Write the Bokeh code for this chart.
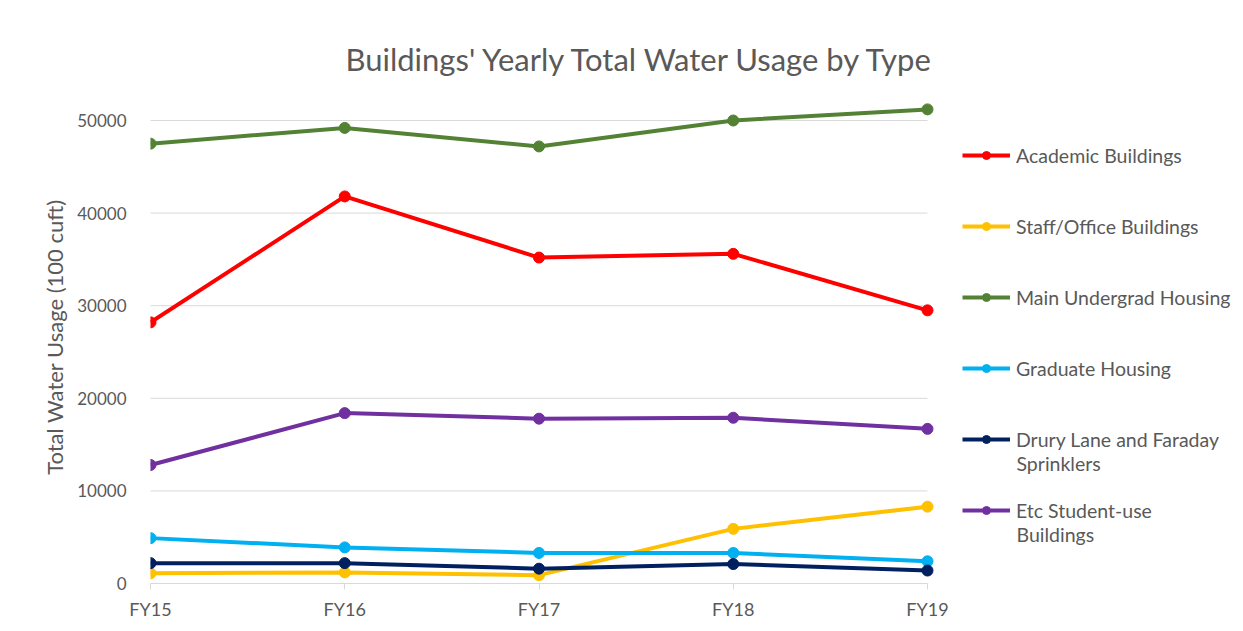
from bokeh.plotting import figure
from bokeh.models import FixedTicker, Legend, LegendItem, Range1d, Label
from bokeh.embed import file_html
from bokeh.resources import INLINE

years = ["FY15", "FY16", "FY17", "FY18", "FY19"]
academic = [28200, 41800, 35200, 35600, 29500]
staff = [1100, 1200, 900, 5900, 8300]
main_ug = [47500, 49200, 47200, 50000, 51200]
graduate = [4900, 3900, 3300, 3300, 2400]
drury = [2200, 2200, 1600, 2100, 1400]
etc_student = [12800, 18400, 17800, 17900, 16700]

# legend labels: first line in the legend entry, second (wrapped) line below it
series_names = ["Academic Buildings", "Staff/Office Buildings", "Main Undergrad Housing",
                "Graduate Housing", "Drury Lane and Faraday", "Etc Student-use"]
wrapped_lines = {4: "Sprinklers", 5: "Buildings"}
series_values = [academic, staff, main_ug, graduate, drury, etc_student]
series_colors = ["#FF0000", "#FFC000", "#548235", "#00B0F0", "#002060", "#7030A0"]
y_ticks = [0, 10000, 20000, 30000, 40000, 50000]

FONT = "Lato"
TXT = "#595959"
GRID = "#D9D9D9"

xs = list(range(len(years)))
n = len(years) - 1

W, H = 1235, 623
LEFT, TOP, BOTTOM = 150, 90, 40
frame_w = W - LEFT
frame_h = H - TOP - BOTTOM
unit_px = 777 / n  # pixel distance between categories
x_end = frame_w / unit_px

p = figure(width=W, height=H, output_backend="svg", toolbar_location=None,
           x_range=Range1d(0, x_end), y_range=Range1d(0, 53240),
           min_border_left=LEFT, min_border_right=0, min_border_top=TOP,
           min_border_bottom=BOTTOM)
p.outline_line_color = None
p.background_fill_color = "white"
p.border_fill_color = "white"

p.title.text = "Buildings' Yearly Total Water Usage by Type"
p.title.text_font = FONT
p.title.text_font_size = "31px"
p.title.text_font_style = "normal"
p.title.text_color = TXT
p.title.align = "left"
p.title.offset = 195
p.title.standoff = 25

# x axis
xa = p.xaxis[0]
xa.ticker = FixedTicker(ticks=xs)
xa.bounds = (0, n)
xa.major_label_overrides = {i: y for i, y in enumerate(years)}
xa.axis_line_color = GRID
xa.major_tick_line_color = GRID
xa.major_tick_in = 0
xa.major_tick_out = 6
xa.minor_tick_line_color = None
xa.major_label_text_font = FONT
xa.major_label_text_font_size = "18px"
xa.major_label_text_color = TXT
xa.major_label_standoff = 8

# y axis
ya = p.yaxis[0]
ya.ticker = FixedTicker(ticks=y_ticks)
ya.axis_line_color = None
ya.major_tick_line_color = None
ya.minor_tick_line_color = None
ya.major_label_text_font = FONT
ya.major_label_text_font_size = "17px"
ya.major_label_text_color = TXT
ya.major_label_standoff = 18
ya.axis_label = "Total Water Usage (100 cuft)"
ya.axis_label_text_font = FONT
ya.axis_label_text_font_size = "22px"
ya.axis_label_text_font_style = "normal"
ya.axis_label_text_color = TXT
ya.axis_label_standoff = 6

# horizontal gridlines only across the category span
p.xgrid.grid_line_color = None
p.ygrid.grid_line_color = None
grid_y = y_ticks[1:]
p.segment(x0=[-0.012] * len(grid_y), x1=[n] * len(grid_y), y0=grid_y, y1=grid_y,
          line_color=GRID, line_width=1)

items = []
for name, vals, col in zip(series_names, series_values, series_colors):
    r1 = p.line(xs, vals, line_color=col, line_width=4)
    r2 = p.scatter(xs, vals, size=11, fill_color=col, line_color=col)
    items.append(LegendItem(label=name, renderers=[r1, r2]))

LEG_X, LEG_BOTTOM = 812, 49
LABEL_H, SPACING, GLYPH_W, STANDOFF = 48, 23, 48, 6
legend = Legend(items=items, location=(LEG_X, LEG_BOTTOM), padding=0, margin=0,
                spacing=SPACING, label_height=LABEL_H, glyph_height=20,
                glyph_width=GLYPH_W, label_standoff=STANDOFF,
                border_line_alpha=0, background_fill_alpha=0,
                label_text_font=FONT, label_text_font_size="19.5px",
                label_text_color=TXT)
p.add_layout(legend)

# wrapped second lines of the two long legend entries
n_items = len(series_names)
legend_h = n_items * LABEL_H + (n_items - 1) * SPACING
for idx, txt in wrapped_lines.items():
    item_center = LEG_BOTTOM + legend_h - (idx * (LABEL_H + SPACING) + LABEL_H / 2)
    p.add_layout(Label(x=LEG_X + GLYPH_W + STANDOFF, y=item_center - 24,
                       x_units="screen", y_units="screen", text=txt,
                       text_font=FONT, text_font_size="19.5px", text_color=TXT,
                       text_baseline="middle", text_align="left"))

open("out.html", "w").write(file_html(p, INLINE))
